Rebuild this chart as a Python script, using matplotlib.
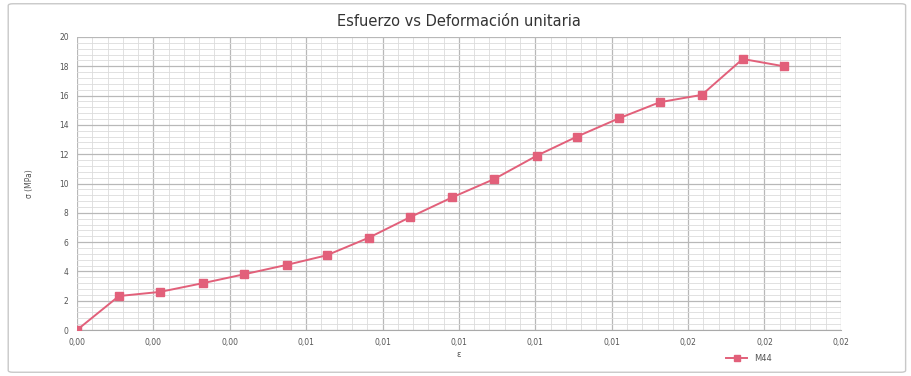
import numpy as np
import matplotlib.pyplot as plt
from matplotlib.patches import FancyBboxPatch
from matplotlib.ticker import MultipleLocator, FixedLocator

strain = [0.0, 0.0011, 0.00217, 0.0033, 0.00437, 0.0055, 0.00654, 0.00764,
          0.00872, 0.00982, 0.01092, 0.01204, 0.01309, 0.01419, 0.01526,
          0.01636, 0.01743, 0.01851]
stress = [0.0, 2.32, 2.6, 3.2, 3.8, 4.45, 5.1, 6.3, 7.7, 9.05, 10.3, 11.9,
          13.2, 14.45, 15.55, 16.05, 18.5, 18.0]
x_ticks = [0.0, 0.002, 0.004, 0.006, 0.008, 0.010, 0.012, 0.014, 0.016, 0.018, 0.020]
x_labels = ['0,00', '0,00', '0,00', '0,01', '0,01', '0,01', '0,01', '0,01',
            '0,02', '0,02', '0,02']
y_ticks = [0, 2, 4, 6, 8, 10, 12, 14, 16, 18, 20]
series_name = 'M44'

color = '#e2607a'

fig = plt.figure(figsize=(9.12, 3.76), dpi=100)
ax = fig.add_axes([0.0844, 0.1223, 0.8376, 0.7793])

ax.plot(strain, stress, color=color, lw=1.4, marker='s', ms=6,
        markerfacecolor=color, markeredgecolor=color, label=series_name, zorder=3)

ax.set_xlim(0, 0.02)
ax.set_ylim(0, 20)
ax.xaxis.set_major_locator(FixedLocator(x_ticks))
ax.set_xticklabels(x_labels)
ax.set_yticks(y_ticks)
ax.xaxis.set_minor_locator(MultipleLocator(0.0004))
ax.yaxis.set_minor_locator(MultipleLocator(0.4))
ax.grid(which='major', color='#b8b8b8', lw=0.9)
ax.grid(which='minor', color='#dcdcdc', lw=0.6)
ax.set_axisbelow(True)

for s in ['top', 'right', 'left']:
    ax.spines[s].set_visible(False)
ax.spines['bottom'].set_color('#aaaaaa')
ax.tick_params(which='both', length=0, labelsize=5.5, labelcolor='#555555', pad=6)

ax.set_title('Esfuerzo vs Deformación unitaria', fontsize=10.5, color='#333333', pad=8,
             fontweight='medium')
ax.set_xlabel('ε', fontsize=6, color='#555555', labelpad=2)
ax.set_ylabel('σ (MPa)', fontsize=5.5, color='#555555', labelpad=18)

ax.legend(loc='upper left', bbox_to_anchor=(0.84, -0.055), frameon=False,
          fontsize=6, handlelength=2.5, markerscale=0.8, labelcolor='#555555')

border = FancyBboxPatch((0.009, 0.01), 0.984, 0.98, boxstyle='round,pad=0,rounding_size=0.005',
                        transform=fig.transFigure, fill=False, edgecolor='#c8c8c8', lw=1)
fig.patches.append(border)

fig.savefig('out.png', dpi=100)
